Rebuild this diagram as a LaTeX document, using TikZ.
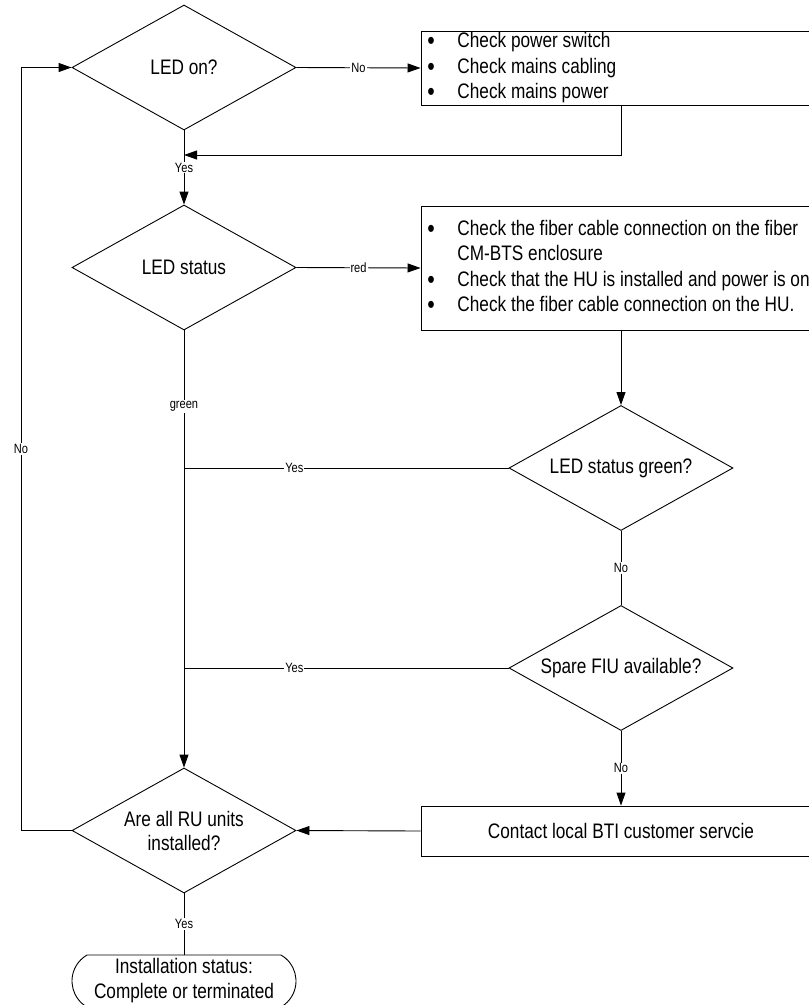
\documentclass[tikz,border=0pt]{standalone}
\usepackage{fontspec}
\setmainfont{Liberation Sans}[FakeStretch=0.82]
\usetikzlibrary{shapes.geometric,shapes.misc,arrows.meta}
\newcommand\mainf{\fontsize{21}{25}\selectfont}
\newcommand\lblf{\fontsize{13.5}{16}\selectfont}
\newcommand\bul{\makebox[30pt][l]{\smash{\raisebox{-1.5pt}{\fontsize{26}{25}\selectfont\textbullet}}}}
\begin{document}
\begin{tikzpicture}[x=1pt,y=-1pt,line width=0.9pt,
  dia/.style={draw,diamond,minimum width=224pt,minimum height=125pt,inner sep=0pt,aspect=1.8,align=center,font=\mainf},
  box/.style={draw,rectangle,minimum width=400pt,inner sep=0pt},
  lbl/.style={fill=white,inner sep=1pt,font=\lblf},
  arr/.style={-{Triangle[length=13pt,width=9pt]}},
  ln/.style={text height=15pt,text depth=4pt,anchor=west,inner sep=0pt,font=\mainf}]
\useasboundingbox (0,0) rectangle (809,1005);
\clip (0,0) rectangle (809,1005);
\fill[white] (0,0) rectangle (809,1005);

% decisions
\node[dia] (d1) at (184,67.5) {LED on?};
\node[dia] (d2) at (184,267.5) {LED status};
\node[dia] (d3) at (621,468) {LED status green?};
\node[dia] (d4) at (621,668) {Spare FIU available?};
\node[dia,font=\fontsize{21}{24}\selectfont] (d5) at (184,830.5) {Are all RU units\\installed?};

% boxes
\node[box,minimum height=74pt] (b1) at (621,68) {};
\node[ln] (b1a) at (427,42) {\bul Check power switch};
\node[ln] (b1b) at (427,68) {\bul Check mains cabling};
\node[ln] (b1c) at (427,93) {\bul Check mains power};

\node[box,minimum height=124pt] (b2) at (621,268) {};
\node[ln] (b2a) at (427,230) {\bul Check the fiber cable connection on the fiber};
\node[ln] (b2b) at (427,255) {\hspace*{30pt}CM-BTS enclosure};
\node[ln] (b2c) at (427,281) {\bul Check that the HU is installed and power is on};
\node[ln] (b2d) at (427,306) {\bul Check the fiber cable connection on the HU.};

\node[box,minimum height=50pt,font=\mainf] (b3) at (621,831) {Contact local BTI customer servcie};

% terminal
\node[draw,rounded rectangle,rounded rectangle arc length=120,minimum width=224pt,minimum height=52pt,inner sep=0pt,align=center,font=\mainf] (t) at (184,981) {Installation status:\\Complete or terminated};

% junction coordinates
\coordinate (j1) at (184,155);
\coordinate (j3) at (184,468);
\coordinate (j4) at (184,668);
\coordinate (lb) at (21,830.5);
\coordinate (lt) at (21,67.5);

% connectors
\draw[arr] (d1.east) -- node[lbl]{No} (b1.west);
\draw[arr] (b1.south) |- (j1);
\draw[arr] (d1.south) -- node[lbl]{Yes} (d2.north);
\draw[arr] (d2.east) -- node[lbl]{red} (b2.west);
\draw[arr] (b2.south) -- (d3.north);
\draw (d3.west) -- node[lbl,pos=0.66]{Yes} (j3);
\draw (d3.south) -- node[lbl]{No} (d4.north);
\draw (d4.west) -- node[lbl,pos=0.66]{Yes} (j4);
\draw[arr] (d4.south) -- node[lbl]{No} (b3.north);
\draw[arr] (b3.west) -- (d5.east);
\draw[arr] (d2.south) -- node[lbl,pos=0.174]{green} (d5.north);
\draw[arr] (d5.west) -- (lb) -- node[lbl]{No} (lt) -- (d1.west);
\draw (d5.south) -- node[lbl]{Yes} (t.north);
\end{tikzpicture}
\end{document}
